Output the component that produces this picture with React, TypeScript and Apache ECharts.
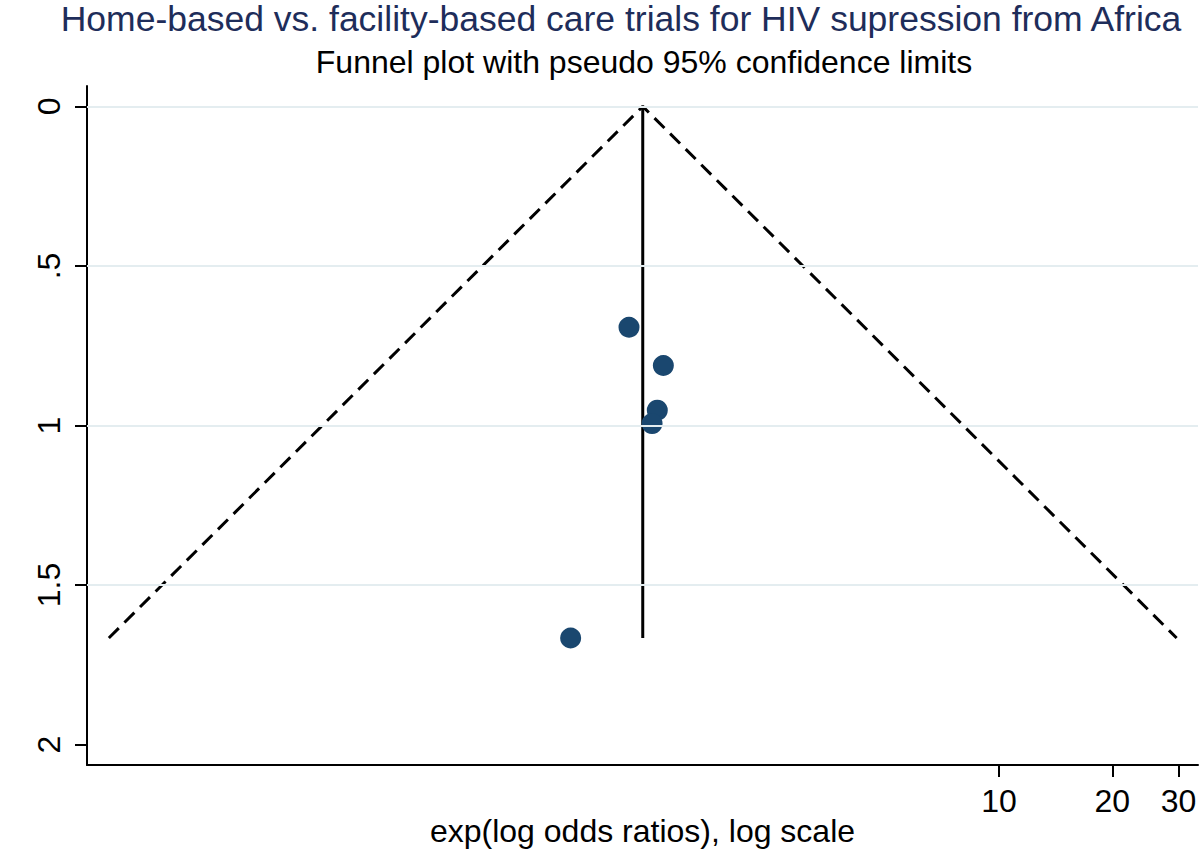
import React, { useEffect, useRef } from "react";
import * as echarts from "echarts";

// Study estimates (log odds ratio, standard error of log OR)
const logOddsRatios = [0.040, 0.250, 0.213, 0.181, -0.317];
const stdErrors = [0.692, 0.812, 0.952, 0.994, 1.666];
// Pooled (fixed-effect) log odds ratio
const pooledLogOR = 0.124;
// Axis tick labels
const xTickLabels = [10, 20, 30];
const yTickLabels = [0, 0.5, 1, 1.5, 2];
const yGridValues = [0, 0.5, 1, 1.5];

const titleText = "Home-based vs. facility-based care trials for HIV supression from Africa";
const subtitleText = "Funnel plot with pseudo 95% confidence limits";
const xAxisName = "exp(log odds ratios), log scale";

const FONT = '"Liberation Sans", Arial, Helvetica, sans-serif';

export default function App() {
  const ref = useRef<HTMLDivElement>(null);
  useEffect(() => {
    if (!ref.current) return;
    const chart = echarts.init(ref.current, undefined, { renderer: "svg" });
    const seMax = Math.max(...stdErrors);
    const z = 1.96;
    const xTicks = xTickLabels.map((v) => Math.log(v));
    const option: any = {
      animation: false,
      backgroundColor: "#ffffff",
      graphic: [
        {
          type: "text",
          x: 621,
          y: 19,
          style: {
            text: titleText,
            fontSize: 35.5,
            fontFamily: FONT,
            fill: "#1e2d5a",
            align: "center",
            verticalAlign: "middle",
          },
        },
        {
          type: "text",
          x: 644,
          y: 62,
          style: {
            text: subtitleText,
            fontSize: 32,
            fontFamily: FONT,
            fill: "#000000",
            align: "center",
            verticalAlign: "middle",
          },
        },
      ],
      grid: {
        left: 87,
        right: 2,
        top: 86,
        bottom: 88,
        containLabel: false,
        outerBoundsMode: "none",
      },
      xAxis: {
        type: "value",
        min: -3.275,
        max: 3.52,
        name: xAxisName,
        nameLocation: "middle",
        nameGap: 50,
        nameMoveOverlap: false,
        nameTextStyle: { fontSize: 32, fontFamily: FONT, color: "#000" },
        axisLine: { show: true, onZero: false, lineStyle: { color: "#000", width: 2 } },
        axisTick: { show: true, customValues: xTicks, length: 12, lineStyle: { color: "#000", width: 2 } },
        axisLabel: {
          customValues: xTicks,
          formatter: (v: number) => String(Math.round(Math.exp(v))),
          fontSize: 32,
          fontFamily: FONT,
          color: "#000",
          margin: 20,
        },
        splitLine: { show: false },
      },
      yAxis: {
        type: "value",
        inverse: true,
        min: -0.064,
        max: 2.064,
        axisLine: { show: true, onZero: false, lineStyle: { color: "#000", width: 2 } },
        axisTick: { show: true, customValues: yTickLabels, length: 12, lineStyle: { color: "#000", width: 2 } },
        axisLabel: {
          customValues: yTickLabels,
          formatter: (v: number) => String(v).replace(/^0\./, "."),
          rotate: 90,
          fontSize: 32,
          fontFamily: FONT,
          color: "#000",
          margin: 22,
        },
        splitLine: { show: false },
      },
      series: [
        {
          type: "line",
          data: [],
          silent: true,
          z: 1,
          markLine: {
            silent: true,
            symbol: "none",
            label: { show: false },
            lineStyle: { color: "#e4edf0", width: 2, type: "solid" },
            data: yGridValues.map((v) => ({ yAxis: v })),
          },
        },
        {
          type: "line",
          data: [
            [pooledLogOR - z * seMax, seMax],
            [pooledLogOR, 0],
            [pooledLogOR + z * seMax, seMax],
          ],
          symbol: "none",
          silent: true,
          z: 2,
          lineStyle: { color: "#000", width: 3, type: [14, 8] },
        },
        {
          type: "line",
          data: [
            [pooledLogOR, 0],
            [pooledLogOR, seMax],
          ],
          symbol: "none",
          silent: true,
          z: 3,
          lineStyle: { color: "#000", width: 3, type: "solid" },
        },
        {
          type: "scatter",
          data: logOddsRatios.map((x, i) => [x, stdErrors[i]]),
          symbol: "circle",
          symbolSize: 21,
          z: 4,
          itemStyle: { color: "#1a476f", opacity: 1 },
        },
      ],
    };
    chart.setOption(option);
    return () => chart.dispose();
  }, []);
  return (
    <div
      ref={ref}
      style={{ position: "fixed", left: 0, top: 0, width: 1200, height: 853, background: "#fff" }}
    />
  );
}
